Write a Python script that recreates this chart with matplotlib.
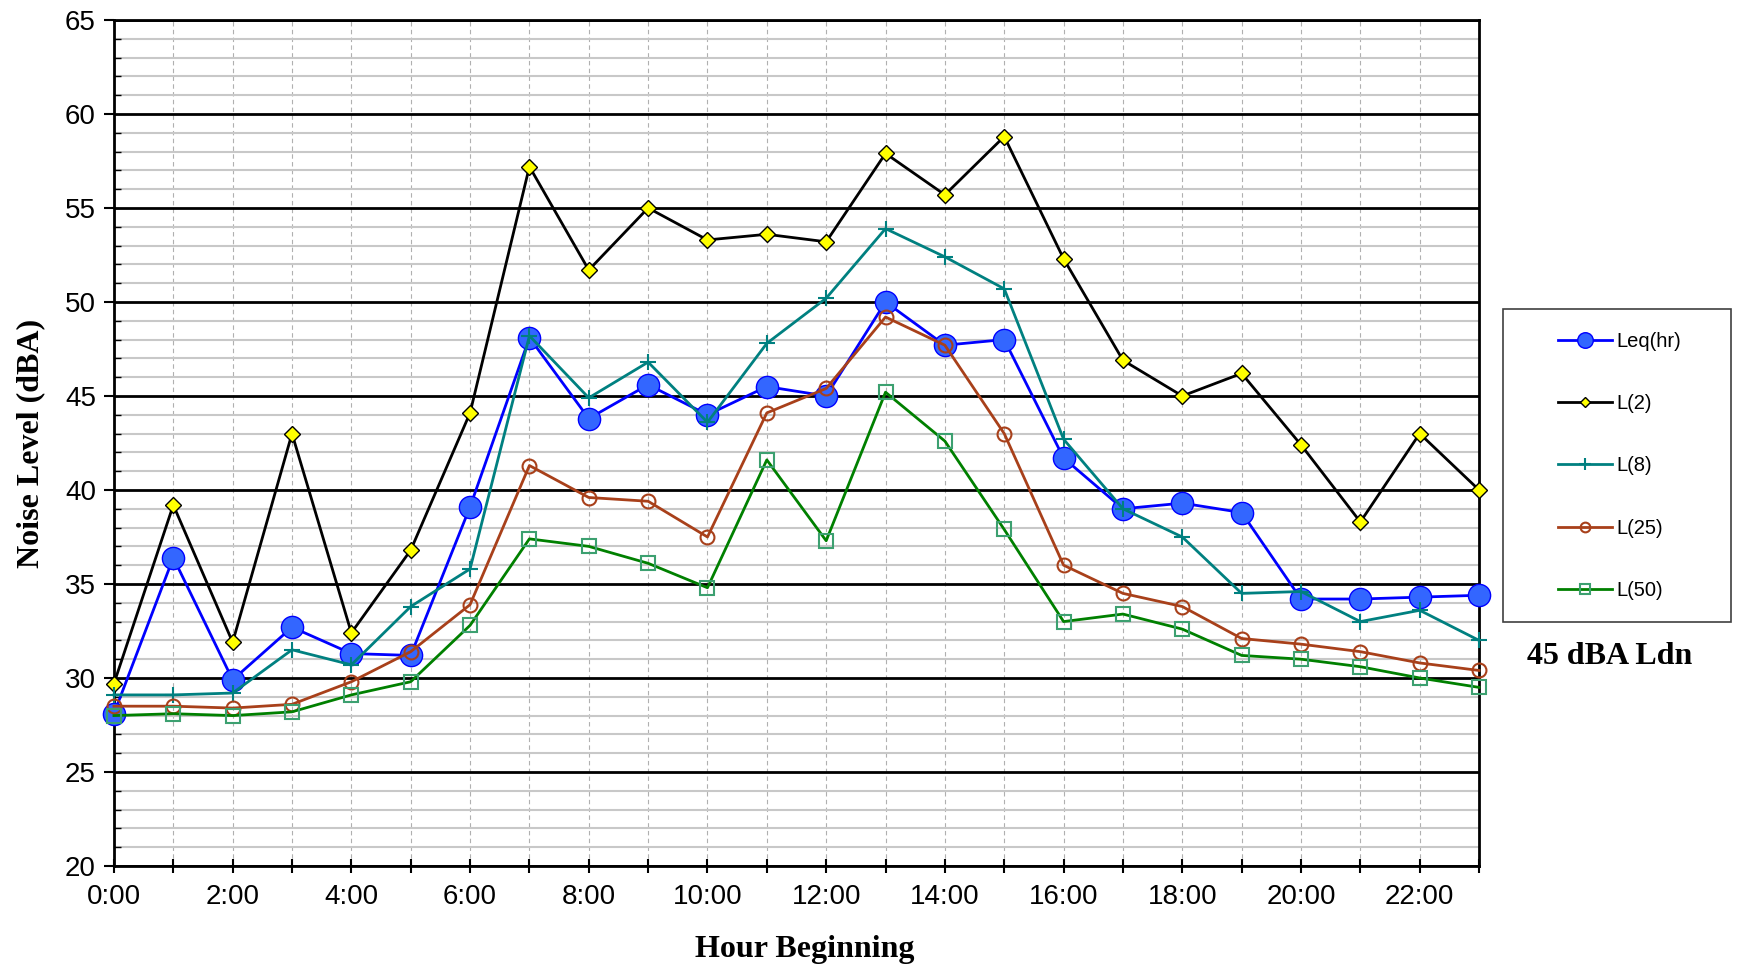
import numpy as np
import matplotlib
matplotlib.use("Agg")
import matplotlib.pyplot as plt
from matplotlib.patches import Rectangle
from matplotlib.ticker import MultipleLocator

hours = list(range(24))
hour_labels = [f"{h}:00" for h in range(0, 24, 2)]

leq_hr = [28.1, 36.4, 29.9, 32.7, 31.3, 31.2, 39.1, 48.1, 43.8, 45.6, 44.0, 45.5,
          45.0, 50.0, 47.7, 48.0, 41.7, 39.0, 39.3, 38.8, 34.2, 34.2, 34.3, 34.4]
l_2 = [29.7, 39.2, 31.9, 43.0, 32.4, 36.8, 44.1, 57.2, 51.7, 55.0, 53.3, 53.6,
       53.2, 57.9, 55.7, 58.8, 52.3, 46.9, 45.0, 46.2, 42.4, 38.3, 43.0, 40.0]
l_8 = [29.1, 29.1, 29.2, 31.5, 30.7, 33.8, 35.8, 48.2, 44.9, 46.8, 43.6, 47.8,
       50.2, 53.9, 52.4, 50.7, 42.7, 39.0, 37.5, 34.5, 34.6, 33.0, 33.6, 32.0]
l_25 = [28.5, 28.5, 28.4, 28.6, 29.8, 31.4, 33.9, 41.3, 39.6, 39.4, 37.5, 44.1,
        45.4, 49.2, 47.7, 43.0, 36.0, 34.5, 33.8, 32.1, 31.8, 31.4, 30.8, 30.4]
l_50 = [28.0, 28.1, 28.0, 28.2, 29.1, 29.8, 32.8, 37.4, 37.0, 36.1, 34.8, 41.6,
        37.3, 45.2, 42.6, 37.9, 33.0, 33.4, 32.6, 31.2, 31.0, 30.6, 30.0, 29.5]

SANS = "Liberation Sans"
SERIF = "Liberation Serif"

fig = plt.figure(figsize=(17.37, 9.69), dpi=100)
ax = fig.add_axes([0.0656, 0.1063, 0.7859, 0.8731])

ax.plot(hours, leq_hr, color="#0000FF", lw=2, marker="o", ms=16,
        mfc="#3366FF", mec="#0000FF", mew=1, label="Leq(hr)", zorder=5, clip_on=False)
ax.plot(hours, l_2, color="black", lw=2, marker="D", ms=8,
        mfc="#FFFF00", mec="black", mew=1, label="L(2)", zorder=5, clip_on=False)
ax.plot(hours, l_8, color="#008080", lw=2, marker="+", ms=12,
        mec="#008080", mew=1.5, label="L(8)", zorder=5, clip_on=False)
ax.plot(hours, l_25, color="#A8401A", lw=2, marker="o", ms=10,
        mfc="none", mec="#A8401A", mew=1.5, label="L(25)", zorder=5, clip_on=False)
ax.plot(hours, l_50, color="#008000", lw=2, marker="s", ms=10,
        mfc="none", mec="#3CA070", mew=1.5, label="L(50)", zorder=5, clip_on=False)

ax.set_xlim(0, 23)
ax.set_ylim(20, 65)
ax.xaxis.set_minor_locator(MultipleLocator(1))
ax.set_xticks(range(0, 24, 2))
ax.set_xticklabels(hour_labels, fontfamily=SANS, fontsize=20)
ax.yaxis.set_major_locator(MultipleLocator(5))
ax.yaxis.set_minor_locator(MultipleLocator(1))
for lab in ax.get_yticklabels():
    lab.set_fontfamily(SANS)
    lab.set_fontsize(20)

ax.tick_params(axis="y", which="major", direction="out", length=7, width=1.5, pad=6)
ax.tick_params(axis="y", which="minor", direction="in", length=5, width=1)
ax.tick_params(axis="x", which="both", direction="inout", length=10, width=1.5, pad=8)

ax.grid(which="minor", axis="y", color="#C8C8C8", lw=1.5, ls="-", zorder=0)
ax.grid(which="major", axis="y", color="black", lw=2, ls="-", zorder=1)
ax.grid(which="both", axis="x", color="#B0B0B0", lw=0.8, ls=(0, (4, 3)), zorder=0)
ax.set_axisbelow(True)
for sp in ax.spines.values():
    sp.set_linewidth(2)

ax.set_xlabel("Hour Beginning", fontfamily=SERIF, fontweight="bold", fontsize=23)
ax.xaxis.label.set_verticalalignment("center")
ax.xaxis.set_label_coords(0.506, -0.099)
ax.set_ylabel("Noise Level (dBA)", fontfamily=SERIF, fontweight="bold", fontsize=23, labelpad=14)

# legend frame drawn separately so padding matches the reference box
fig.patches.append(Rectangle((1503 / 1737, 1 - 622 / 969), 228 / 1737, 313 / 969,
                             transform=fig.transFigure, fill=False,
                             edgecolor="#404040", lw=1.2))
fig.legend(loc="center", bbox_to_anchor=(1620 / 1737, 1 - 466 / 969),
           frameon=False, prop={"family": SANS, "size": 14.5},
           handlelength=2.65, handletextpad=0.25, labelspacing=2.15,
           markerscale=0.7)

fig.text(1610 / 1737, 1 - 657 / 969, "45 dBA Ldn", fontfamily=SERIF,
         fontweight="bold", fontsize=23, ha="center", va="center")

fig.savefig("out.png", dpi=100)
